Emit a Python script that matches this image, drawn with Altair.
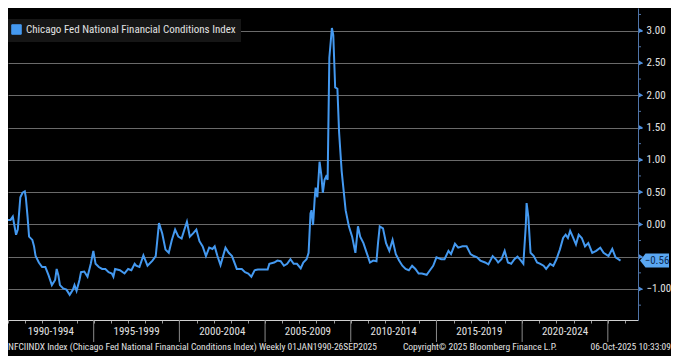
import altair as alt
import pandas as pd

# ---------------- data ----------------
years = [1990.00, 1990.15, 1990.28, 1990.47, 1990.57, 1990.72, 1990.85, 1990.98, 1991.04, 1991.14,
         1991.23, 1991.42, 1991.52, 1991.61, 1991.80, 1991.99, 1992.18, 1992.37, 1992.56, 1992.75,
         1992.84, 1992.94, 1993.03, 1993.22, 1993.41, 1993.60, 1993.79, 1993.88, 1994.00, 1994.17,
         1994.26, 1994.45, 1994.64, 1994.83, 1994.98, 1995.11, 1995.30, 1995.49, 1995.68, 1995.87,
         1996.06, 1996.15, 1996.25, 1996.53, 1996.80, 1997.01, 1997.20, 1997.39, 1997.48, 1997.67,
         1997.90, 1998.14, 1998.43, 1998.62, 1998.81, 1999.00, 1999.19, 1999.38, 1999.56, 1999.75,
         1999.94, 2000.13, 2000.28, 2000.44, 2000.61, 2000.80, 2000.99, 2001.17, 2001.36, 2001.55,
         2001.74, 2001.93, 2002.06, 2002.22, 2002.40, 2002.69, 2002.88, 2003.07, 2003.35, 2003.64,
         2003.83, 2004.02, 2004.20, 2004.39, 2004.58, 2005.15, 2005.25, 2005.53, 2005.72, 2005.91,
         2006.10, 2006.29, 2006.48, 2006.67, 2006.86, 2007.08, 2007.23, 2007.42, 2007.54, 2007.65,
         2007.71, 2007.80, 2007.90, 2007.95, 2008.05, 2008.18, 2008.28, 2008.37, 2008.47, 2008.56,
         2008.65, 2008.75, 2008.90, 2008.98, 2009.09, 2009.22, 2009.32, 2009.47, 2009.70, 2009.89,
         2010.08, 2010.27, 2010.42, 2010.55, 2010.74, 2010.93, 2011.12, 2011.31, 2011.50, 2011.59,
         2011.69, 2011.88, 2012.06, 2012.25, 2012.44, 2012.63, 2012.82, 2013.01, 2013.20, 2013.39,
         2013.58, 2013.77, 2013.96, 2014.15, 2014.43, 2014.62, 2014.81, 2015.00, 2015.28, 2015.47,
         2015.70, 2015.85, 2016.08, 2016.27, 2016.52, 2016.76, 2016.99, 2017.18, 2017.37, 2017.56,
         2017.84, 2018.03, 2018.28, 2018.47, 2018.60, 2018.79, 2018.98, 2019.17, 2019.36, 2019.55,
         2019.73, 2019.93, 2020.07, 2020.21, 2020.26, 2020.36, 2020.49, 2020.68, 2020.87, 2021.06,
         2021.25, 2021.40, 2021.63, 2021.82, 2022.00, 2022.20, 2022.39, 2022.54, 2022.67, 2022.80,
         2022.95, 2023.14, 2023.30, 2023.48, 2023.67, 2023.86, 2024.09, 2024.32, 2024.56, 2024.75,
         2025.04, 2025.26, 2025.45, 2025.74]
values = [0.07, 0.07, 0.12, -0.16, -0.08, 0.42, 0.49, 0.51, 0.42, 0.12,
          -0.19, -0.24, -0.34, -0.49, -0.59, -0.66, -0.66, -0.79, -0.94, -0.86,
          -0.69, -0.79, -0.94, -0.99, -1.01, -1.09, -1.01, -0.94, -1.03, -0.86,
          -0.74, -0.73, -0.81, -0.61, -0.41, -0.61, -0.66, -0.69, -0.69, -0.74,
          -0.76, -0.81, -0.69, -0.71, -0.76, -0.69, -0.71, -0.61, -0.64, -0.66,
          -0.48, -0.64, -0.56, -0.49, 0.02, -0.14, -0.39, -0.44, -0.24, -0.08,
          -0.19, -0.22, -0.09, 0.04, -0.19, -0.14, -0.08, -0.26, -0.34, -0.49,
          -0.36, -0.38, -0.34, -0.49, -0.63, -0.36, -0.44, -0.49, -0.69, -0.69,
          -0.74, -0.76, -0.81, -0.71, -0.70, -0.70, -0.61, -0.59, -0.56, -0.57,
          -0.64, -0.61, -0.54, -0.61, -0.61, -0.68, -0.59, -0.54, -0.44, 0.17,
          0.22, -0.01, 0.42, 0.57, 0.42, 0.97, 0.77, 0.49, 0.69, 0.74,
          0.69, 2.58, 3.04, 2.93, 2.12, 2.10, 1.42, 0.82, 0.22, -0.03,
          -0.19, -0.44, -0.03, -0.19, -0.29, -0.44, -0.59, -0.56, -0.57, -0.29,
          -0.03, -0.06, -0.29, -0.41, -0.24, -0.46, -0.56, -0.64, -0.69, -0.71,
          -0.64, -0.69, -0.76, -0.76, -0.78, -0.71, -0.64, -0.51, -0.54, -0.54,
          -0.41, -0.46, -0.30, -0.36, -0.34, -0.34, -0.46, -0.49, -0.51, -0.56,
          -0.59, -0.62, -0.49, -0.54, -0.59, -0.54, -0.41, -0.59, -0.61, -0.54,
          -0.50, -0.56, -0.61, -0.03, 0.33, 0.12, -0.44, -0.49, -0.59, -0.61,
          -0.64, -0.69, -0.61, -0.64, -0.54, -0.39, -0.21, -0.16, -0.21, -0.10,
          -0.19, -0.31, -0.16, -0.21, -0.34, -0.29, -0.44, -0.41, -0.36, -0.44,
          -0.49, -0.38, -0.51, -0.56]

series_name = "Chicago Fed National Financial Conditions Index"
y_tick_values = [-1.0, -0.5, 0.0, 0.5, 1.0, 1.5, 2.0, 2.5, 3.0]
y_minor_values = [-1.25, -0.75, -0.25, 0.25, 0.75, 1.25, 1.75, 2.25, 2.75, 3.25]
year_ticks = list(range(1990, 2027))
period_starts = [1990, 1995, 2000, 2005, 2010, 2015, 2020]
period_labels = ["1990-1994", "1995-1999", "2000-2004", "2005-2009",
                 "2010-2014", "2015-2019", "2020-2024"]
separator_years = [1995, 2000, 2005, 2010, 2015, 2020, 2025]
footer_left = "NFCIINDX Index (Chicago Fed National Financial Conditions Index) Weekly 01JAN1990-26SEP2025"
footer_mid = "Copyright\u00a9 2025 Bloomberg Finance L.P."
footer_right = "06-Oct-2025 10:33:09"

# ---------------- styling ----------------
W, H = 630, 312
BLUE = "#4499f0"
TXT = "#e2e2e2"
FONT = "Liberation Sans Narrow, Arial Narrow, Roboto Condensed, Liberation Sans, sans-serif"

df = pd.DataFrame({"year": years, "value": values, "series": series_name})
last = pd.DataFrame({"year": [years[-1]], "value": [values[-1]]})
periods = pd.DataFrame({"year": [s + 2.5 for s in period_starts], "label": period_labels})
seps = pd.DataFrame({"year": separator_years})
ymaj = pd.DataFrame({"value": y_tick_values})
ymin = pd.DataFrame({"value": y_minor_values})

xscale = alt.Scale(domain=[1990, 2026.76], nice=False, zero=False)
yscale = alt.Scale(domain=[-1.48, 3.35], nice=False, zero=False)

X = alt.X("year:Q", scale=xscale,
          axis=alt.Axis(values=year_ticks, labels=False, title=None, grid=False,
                        tickSize=3, tickColor="#9a9a9a", domainColor="#cfcfcf"))
Y = alt.Y("value:Q", scale=yscale,
          axis=alt.Axis(orient="right", values=y_tick_values, format=".2f", title=None,
                        labelExpr="datum.value == -0.5 ? '' : datum.label",
                        grid=True, gridColor="#6a6a6a", gridWidth=1,
                        domainColor="#4f74a8", tickColor="#4f8fdc", tickSize=4,
                        labelColor=TXT, labelFontSize=11, labelFont=FONT, labelPadding=4))

line = alt.Chart(df).mark_line(strokeWidth=2, clip=True).encode(
    x=X, y=Y,
    color=alt.Color("series:N", scale=alt.Scale(range=[BLUE]),
                    legend=alt.Legend(orient="none", legendX=-2, legendY=11, title=None,
                                      fillColor="#161616", padding=5,
                                      labelColor=TXT, labelFontSize=11, labelFont=FONT,
                                      labelLimit=400,
                                      symbolType="square", symbolSize=90,
                                      symbolFillColor=BLUE, symbolStrokeColor=BLUE,
                                      symbolStrokeWidth=1, labelOffset=4)))

minor = alt.Chart(ymin).mark_rule(color="#4f74a8", strokeWidth=1).encode(
    y=Y, x=alt.value(W), x2=alt.value(W + 3))
arrows = alt.Chart(ymaj).mark_point(shape="triangle-right", filled=True, size=22,
                                    color="#4f8fdc", opacity=1).encode(
    y=Y, x=alt.value(W + 3))

sep_rules = alt.Chart(seps).mark_rule(color="#8a8a8a", strokeWidth=1).encode(
    x=X, y=alt.value(H), y2=alt.value(H + 22))
period_text = alt.Chart(periods).mark_text(fontSize=11, font=FONT, color=TXT,
                                           baseline="middle").encode(
    x=X, y=alt.value(H + 12), text="label:N")

tag_box = alt.Chart(last).mark_point(
    shape="M -1 0 L -0.62 -0.48 L 1 -0.48 L 1 0.48 L -0.62 0.48 Z",
    filled=True, size=841, color="#5aa7f2", opacity=1).encode(
    y=Y, x=alt.value(W + 16.5))
tag_text = alt.Chart(last).mark_text(fontSize=11, font=FONT, color="#0d2b52",
                                     baseline="middle", align="center").encode(
    y=Y, x=alt.value(W + 19), text=alt.Text("value:Q", format=".2f"))

def footer(txt, xpos, align):
    return alt.Chart(pd.DataFrame({"t": [txt]})).mark_text(
        fontSize=9.5, font=FONT, color=TXT, align=align, baseline="middle").encode(
        text="t:N", x=alt.value(xpos), y=alt.value(H + 27))

chart = alt.layer(
    line, minor, arrows, sep_rules, period_text, tag_box, tag_text,
    footer(footer_left, 0, "left"),
    footer(footer_mid, 472, "center"),
    footer(footer_right, W + 33, "right"),
).properties(
    width=W, height=H,
    autosize=alt.AutoSizeParams(type="none"),
    padding={"left": 0, "top": 0, "right": 33, "bottom": 36},
    background="#000000",
).configure_view(stroke=None)

chart.save("out.html", embed_options={"renderer": "svg", "actions": False})
